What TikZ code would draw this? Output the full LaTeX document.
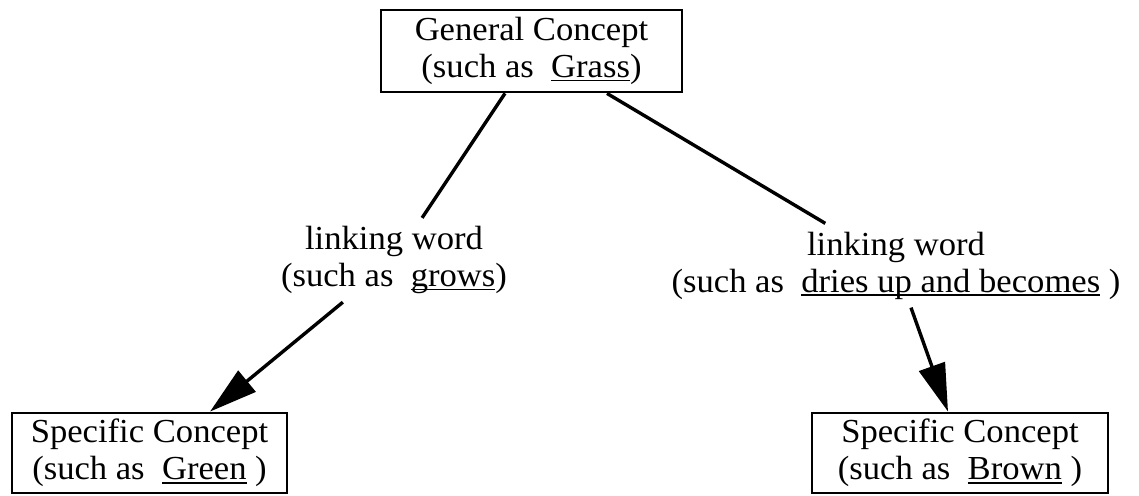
\documentclass[tikz,border=0pt]{standalone}
\usepackage{fontspec}
\setmainfont{Liberation Serif}[FakeStretch=1.03]
\usetikzlibrary{arrows.meta}
\newsavebox{\ulbox}
\newcommand{\ulword}[1]{\sbox{\ulbox}{#1}\rlap{\rule[-1.9pt]{\wd\ulbox}{0.75pt}}\usebox{\ulbox}}
\begin{document}
\begin{tikzpicture}[x=0.5pt,y=0.5pt,
  every node/.style={font=\fontsize{16.8}{18.5}\selectfont},
  concept/.style={draw=black,line width=1.4pt,align=center,inner sep=0pt},
  linker/.style={align=center,inner xsep=2pt,inner ysep=4pt},
  conn/.style={line width=1.7pt},
  arr/.style={conn,-{Triangle[length=24pt,width=13.5pt]}}]
\useasboundingbox (0,0) rectangle (1139,-495);
\node[concept,minimum width=150.5pt,minimum height=41pt] (grass) at (531.5,-51) {General Concept\\(such as\ \ \ulword{Grass})};
\node[concept,minimum width=137.5pt,minimum height=40pt] (green) at (149.5,-453) {Specific Concept\\(such as\ \ \ulword{Green}\ )};
\node[concept,minimum width=148pt,minimum height=40pt] (brown) at (960,-453) {Specific Concept\\(such as\ \ \ulword{Brown}\ )};
\node[linker] (grows) at (394,-260) {linking word\\(such as\ \ \ulword{grows})};
\node[linker] (dries) at (896,-265.5) {linking word\\(such as\ \ \ulword{dries up and becomes}\ )};
\draw[conn] ([xshift=-13.25pt]grass.south) -- (grows);
\draw[conn] ([xshift=37.75pt]grass.south) -- (dries);
\draw[arr] (grows) -- ([xshift=30.25pt]green.north);
\draw[arr] (dries) -- ([xshift=-6pt]brown.north);
\end{tikzpicture}
\end{document}
